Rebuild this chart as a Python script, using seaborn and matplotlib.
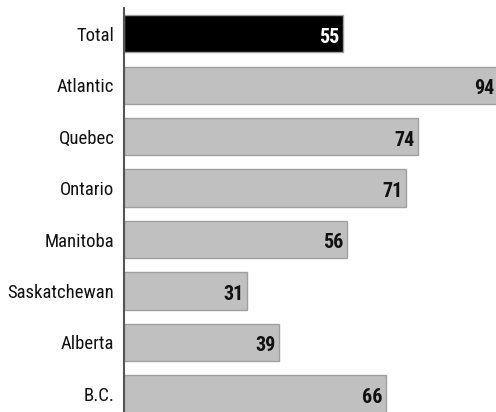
import matplotlib
matplotlib.use("Agg")
import matplotlib.pyplot as plt
from matplotlib import font_manager
import seaborn as sns
import pandas as pd

regions = ["Total", "Atlantic", "Quebec", "Ontario", "Manitoba",
           "Saskatchewan", "Alberta", "B.C."]
values = [55, 94, 74, 71, 56, 31, 39, 66]
bar_colors = ["#000000"] + ["#c0c0c0"] * 7

# pick a condensed face if one is installed
installed = {f.name for f in font_manager.fontManager.ttflist}
narrow = [n for n in ["Roboto Condensed", "Asap Condensed", "Archivo Narrow",
                      "Barlow Semi Condensed"] if n in installed]

sns.set_style("white")
plt.rcParams["font.family"] = narrow[:1] + ["DejaVu Sans"]

df = pd.DataFrame({"region": regions, "value": values})

fig = plt.figure(figsize=(4.96, 4.12), dpi=100)
ax = fig.add_axes([0.25, 0.0, 0.75, 0.981])

sns.barplot(data=df, x="value", y="region", hue="region", palette=bar_colors,
            legend=False, width=0.72, edgecolor="#a0a0a0", linewidth=1.0,
            saturation=1, ax=ax)

ax.set_xlim(0, 93.6)
ax.set_ylim(7.35, -0.5)
for side in ["top", "right", "bottom"]:
    ax.spines[side].set_visible(False)
ax.spines["left"].set_color("#555555")
ax.spines["left"].set_linewidth(1.5)
ax.set_xticks([])
ax.set_xlabel("")
ax.set_ylabel("")
ax.tick_params(axis="y", length=0, pad=7, labelsize=13.5, labelcolor="#111111")

for i, v in enumerate(values):
    ax.annotate(str(v), xy=(v, i), xytext=(-2.5, -2.5), textcoords="offset points",
                ha="right", va="center", fontsize=14.5, fontweight="bold",
                color="white" if i == 0 else "#111111",
                annotation_clip=False)

fig.savefig("out.png", dpi=100)
